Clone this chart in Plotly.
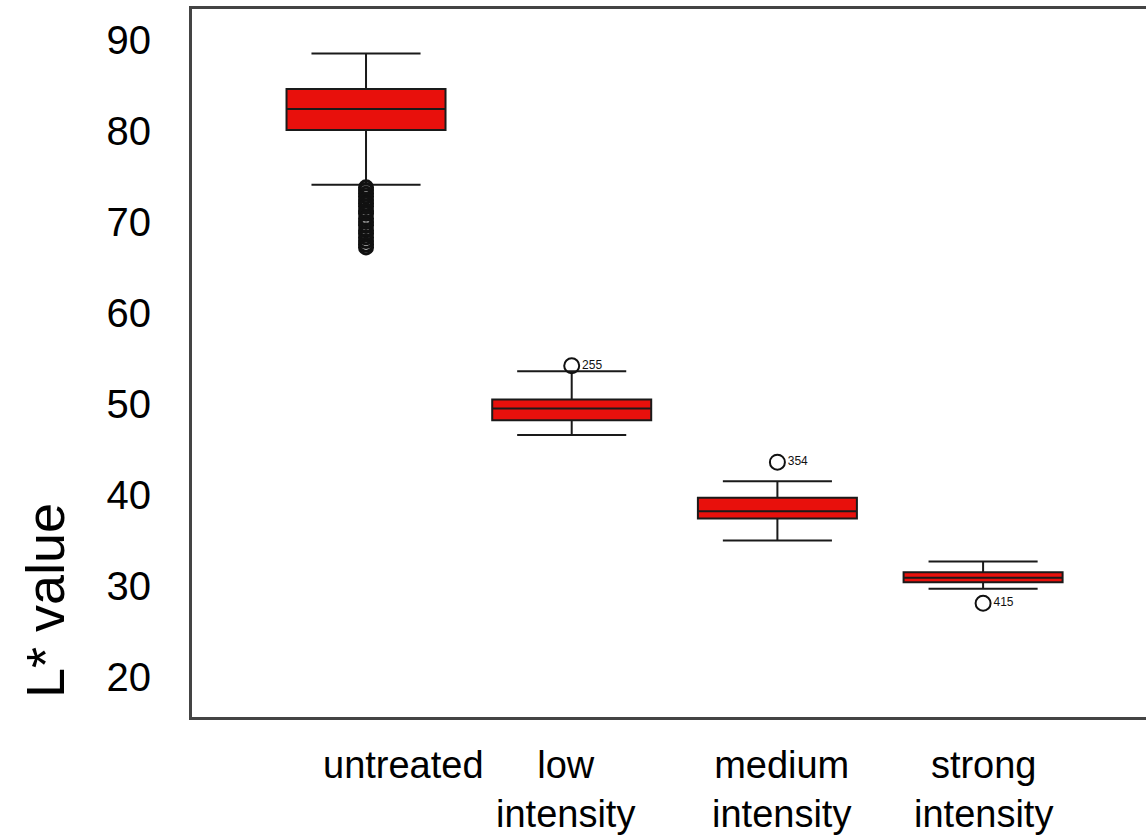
import plotly.graph_objects as go

# ---- data ----
categories = ["untreated", "low intensity", "medium intensity", "strong intensity"]
q1 = [80.1, 48.2, 37.4, 30.4]
median = [82.4, 49.5, 38.2, 30.9]
q3 = [84.6, 50.5, 39.7, 31.5]
lower_whisker = [74.1, 46.6, 35.0, 29.7]
upper_whisker = [88.5, 53.6, 41.5, 32.7]

untreated_outliers = [73.8, 73.5, 73.1, 72.8, 72.4, 72.0, 71.7, 71.2, 70.9,
                      70.4, 70.0, 69.6, 69.1, 68.7, 68.3, 67.9, 67.5, 67.2]
labeled_outlier_cat = ["low intensity", "medium intensity", "strong intensity"]
labeled_outlier_val = [54.2, 43.6, 28.1]
labeled_outlier_txt = ["255", "354", "415"]

y_ticks = [20, 30, 40, 50, 60, 70, 80, 90]

# ---- figure ----
xpos = list(range(len(categories)))
fig = go.Figure()

fig.add_trace(go.Box(
    x=xpos, q1=q1, median=median, q3=q3,
    lowerfence=lower_whisker, upperfence=upper_whisker,
    fillcolor="#e8100c", line=dict(color="#1a1a1a", width=2),
    width=0.773, whiskerwidth=0.686, boxpoints=False, showlegend=False,
    hoverinfo="skip",
))

fig.add_trace(go.Scatter(
    x=[0] * len(untreated_outliers), y=untreated_outliers, mode="markers",
    marker=dict(symbol="circle-open", size=13, color="#111", line=dict(width=3)),
    showlegend=False,
))

fig.add_trace(go.Scatter(
    x=[categories.index(c) for c in labeled_outlier_cat], y=labeled_outlier_val,
    mode="markers+text", text=labeled_outlier_txt, textposition="middle right",
    textfont=dict(family="Liberation Sans, Arial", size=12, color="#111"),
    marker=dict(symbol="circle-open", size=15, color="#111", line=dict(width=2)),
    showlegend=False,
))

# category labels under the axis
label_offsets = [0.18, -0.03, 0.02, 0.0]
for i, cat in enumerate(categories):
    fig.add_annotation(
        x=i + label_offsets[i], y=-0.036, xref="x", yref="paper",
        text=cat.replace(" ", "<br>"), showarrow=False,
        xanchor="center", yanchor="top", align="center",
        font=dict(family="Liberation Sans, Arial", size=38, color="#000"),
    )

fig.add_annotation(
    x=-0.154, y=0.1638, xref="paper", yref="paper", text="L* value",
    textangle=-90, showarrow=False, xanchor="center", yanchor="middle",
    font=dict(family="Liberation Sans, Arial", size=54, color="#000"),
)

fig.update_layout(
    width=1146, height=840,
    margin=dict(l=192, r=0, t=9, b=123),
    paper_bgcolor="white", plot_bgcolor="white",
    font=dict(family="Liberation Sans, Arial", color="#000"),
    xaxis=dict(range=[-0.846, 3.792], showticklabels=False, showgrid=False,
               zeroline=False, showline=True, mirror=True,
               linecolor="#444", linewidth=3, ticks=""),
    yaxis=dict(range=[15.6, 93.4], tickvals=y_ticks, showgrid=False,
               zeroline=False, showline=True, mirror=False,
               linecolor="#444", linewidth=3, ticks="",
               tickfont=dict(size=40, color="#000"), ticklabelstandoff=30),
)

fig.write_html("out.html")
